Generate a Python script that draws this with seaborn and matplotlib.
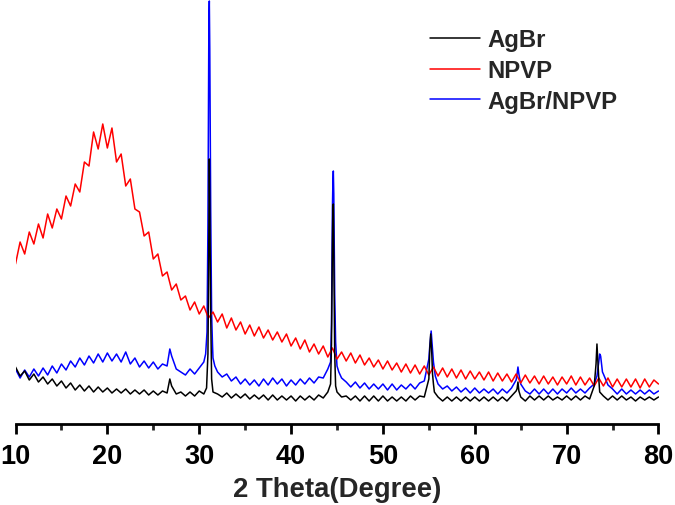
import numpy as np
import pandas as pd
import matplotlib
matplotlib.use("Agg")
import matplotlib.pyplot as plt
import seaborn as sns

# ---------------- data (2 theta in degrees, intensity in arbitrary units) -------------
two_theta = np.linspace(10, 80, 141)          # 0.5 degree sampling grid

agbr = [57, 48, 53, 44, 50, 42, 47, 40, 45, 38, 43, 36, 41, 34, 39, 33, 38, 32, 37, 32,
        36, 31, 35, 31, 35, 30, 34, 30, 34, 29, 33, 29, 33, 31, 38, 30, 32, 28, 32, 28,
        33, 30, 125, 32, 30, 27, 31, 26, 30, 26, 30, 25, 29, 25, 29, 24, 29, 24, 28, 24,
        28, 23, 28, 24, 28, 24, 29, 26, 32, 180, 32, 27, 28, 24, 28, 23, 28, 23, 28, 23,
        28, 23, 27, 23, 27, 23, 28, 24, 28, 27, 45, 40, 27, 23, 27, 23, 27, 23, 27, 23,
        27, 23, 27, 23, 27, 23, 27, 23, 28, 33, 27, 23, 28, 24, 28, 24, 28, 24, 27, 24,
        28, 24, 28, 24, 28, 25, 38, 45, 28, 24, 28, 24, 28, 24, 27, 23, 27, 24, 27, 24, 27]
agbr_peak_x = [26.8, 30.8, 30.95, 31.05, 31.1, 31.15, 31.25, 31.35,
               44.3, 44.4, 44.55, 44.6, 44.65, 44.75, 44.85,
               55.1, 55.2, 55.3, 55.4, 55.6, 64.6, 64.7, 64.8, 73.2, 73.3, 73.4, 73.6]
agbr_peak_y = [45, 36, 70, 200, 265, 220, 110, 45,
               40, 80, 215, 220, 170, 70, 38,
               75, 90, 75, 50, 32, 35, 42, 33, 60, 80, 62, 32]

npvp = [160, 182, 170, 192, 180, 200, 186, 210, 196, 215, 205, 228, 218, 240, 232, 262,
        258, 292, 275, 300, 276, 296, 262, 270, 238, 245, 215, 212, 188, 192, 165, 170,
        148, 152, 134, 140, 124, 128, 114, 122, 110, 118, 106, 112, 102, 110, 96, 106,
        94, 102, 90, 99, 88, 97, 86, 94, 84, 92, 82, 90, 78, 86, 75, 84, 72, 80, 70, 78,
        67, 76, 65, 72, 63, 71, 61, 69, 59, 66, 57, 64, 55, 63, 54, 61, 52, 60, 51, 59,
        50, 58, 49, 57, 48, 56, 47, 55, 46, 54, 45, 53, 45, 52, 44, 52, 43, 51, 43, 50,
        42, 50, 41, 49, 41, 48, 40, 48, 40, 47, 39, 47, 40, 48, 39, 47, 39, 46, 38, 46,
        38, 46, 37, 45, 37, 45, 37, 45, 36, 45, 37, 44, 40]

agbr_npvp = [55, 46, 54, 47, 55, 48, 56, 49, 58, 51, 60, 54, 63, 57, 66, 59, 68, 61, 70, 62,
             71, 63, 70, 62, 72, 60, 66, 57, 63, 56, 62, 55, 60, 58, 68, 55, 52, 49, 55, 50,
             56, 62, 310, 66, 52, 47, 50, 43, 47, 40, 45, 39, 44, 38, 45, 39, 46, 40, 45, 38,
             44, 39, 45, 40, 46, 41, 47, 46, 55, 215, 58, 46, 42, 37, 42, 36, 41, 35, 40, 35,
             40, 34, 40, 34, 39, 35, 40, 35, 41, 43, 65, 62, 40, 35, 38, 33, 37, 32, 36, 31,
             36, 31, 35, 31, 35, 30, 35, 31, 36, 44, 40, 33, 30, 35, 30, 35, 30, 35, 30, 35,
             31, 36, 31, 35, 31, 36, 40, 62, 50, 39, 35, 30, 35, 30, 34, 30, 34, 30, 34, 30, 33]
agbr_npvp_peak_x = [26.8, 30.7, 30.85, 30.95, 31.05, 31.1, 31.15, 31.25, 31.35, 31.45, 31.7,
                    44.3, 44.4, 44.55, 44.6, 44.65, 44.75, 44.85, 45.2,
                    55.1, 55.25, 55.35, 55.7, 64.6, 64.7, 64.8,
                    73.3, 73.4, 73.6, 73.7, 73.8, 73.9]
agbr_npvp_peak_y = [75, 70, 92, 200, 400, 423, 375, 215, 110, 78, 58,
                    62, 100, 240, 253, 230, 130, 82, 52,
                    78, 93, 80, 48, 50, 57, 50,
                    48, 55, 70, 68, 60, 52]

series_names = ["AgBr", "NPVP", "AgBr/NPVP"]
series_colors = {"AgBr": "#000000", "NPVP": "#ff0000", "AgBr/NPVP": "#0000ff"}
x_ticks = [10, 20, 30, 40, 50, 60, 70, 80]
x_label = "2 Theta(Degree)"


def build(name, ys, px=None, py=None):
    xs = list(two_theta)
    vals = list(ys)
    if px is not None:
        xs += list(px)
        vals += list(py)
    df = pd.DataFrame({"two_theta": xs, "intensity": vals, "sample": name})
    return df.sort_values("two_theta")


assert len(agbr) == 141 and len(npvp) == 141 and len(agbr_npvp) == 141
frames = {
    "AgBr": build("AgBr", agbr, agbr_peak_x, agbr_peak_y),
    "NPVP": build("NPVP", npvp),
    "AgBr/NPVP": build("AgBr/NPVP", agbr_npvp, agbr_npvp_peak_x, agbr_npvp_peak_y),
}

# ---------------- plotting -------------
sns.set_style("white")
plt.rcParams["font.family"] = ["Liberation Sans", "DejaVu Sans"]
plt.rcParams["font.weight"] = "bold"

fig = plt.figure(figsize=(6.75, 5.06), dpi=100)
ax = fig.add_axes([15.5 / 675, (506 - 425) / 506, 643 / 675, 425 / 506])

zorders = {"AgBr/NPVP": 1, "NPVP": 2, "AgBr": 3}
for name in ["AgBr/NPVP", "NPVP", "AgBr"]:
    sns.lineplot(data=frames[name], x="two_theta", y="intensity", ax=ax,
                 color=series_colors[name], lw=1.1, estimator=None, sort=True,
                 zorder=zorders[name], label=name)

ax.set_xlim(10, 80)
ax.set_ylim(0, 425)
for s in ["left", "top", "right"]:
    ax.spines[s].set_visible(False)
ax.spines["bottom"].set_linewidth(2)
ax.spines["bottom"].set_color("black")
ax.set_yticks([])
ax.set_ylabel("")
ax.set_xticks(x_ticks)
ax.set_xticks([15, 25, 35, 45, 55, 65, 75], minor=True)
ax.tick_params(axis="x", which="major", direction="out", length=7.5, width=2,
               labelsize=19.5, pad=6, bottom=True, colors="black")
ax.tick_params(axis="x", which="minor", direction="out", length=4, width=2, bottom=True)
for lab in ax.get_xticklabels():
    lab.set_fontweight("bold")
ax.set_xlabel(x_label, fontsize=19.8, fontweight="bold", labelpad=5)

handles, labels = ax.get_legend_handles_labels()
order = [labels.index(n) for n in series_names]
leg = ax.legend([handles[i] for i in order], [labels[i] for i in order],
                loc="upper left", bbox_to_anchor=(430 / 675, 1 - 29 / 506),
                bbox_transform=fig.transFigure, frameon=False, fontsize=17.2,
                handlelength=2.1, handletextpad=0.3, labelspacing=0.33,
                borderpad=0, borderaxespad=0)
for t in leg.get_texts():
    t.set_fontweight("bold")

fig.savefig("out.png", dpi=100)
